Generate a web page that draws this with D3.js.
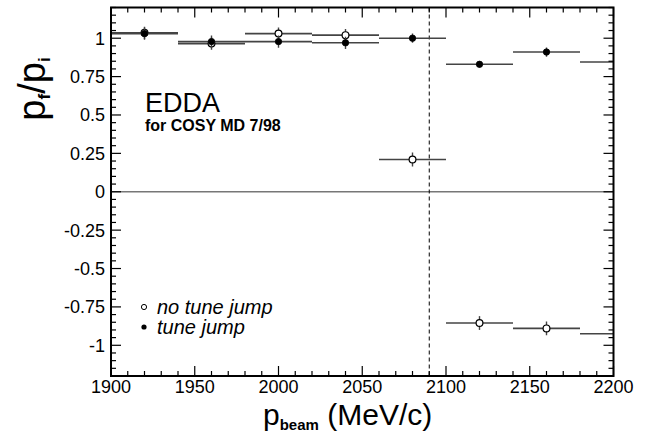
<!DOCTYPE html>
<html><head><meta charset="utf-8">
<script src="https://cdn.jsdelivr.net/npm/d3@7"></script>
<style>
body{margin:0;background:#fff;}
text{font-family:"Liberation Sans",Arial,Helvetica,sans-serif;}
</style></head>
<body>
<svg id="c" width="649" height="436"></svg>
<script>
// Data
const binCenters = [1920, 1960, 2000, 2040, 2080, 2120, 2160, 2200];
const binHalfWidth = 20;
const tuneJump    = [1.03, 0.978, 0.978, 0.97, 1.00, 0.83, 0.91, 0.845];
const tuneJumpErr = [0.04, 0.04, 0.04, 0.04, 0.03, 0.02, 0.03, 0.03];
const noTuneJump    = [1.035, 0.965, 1.03, 1.02, 0.21, -0.855, -0.89, -0.925];
const noTuneJumpErr = [0.04, 0.04, 0.04, 0.04, 0.045, 0.045, 0.045, 0.045];
const xTicks = [1900, 1950, 2000, 2050, 2100, 2150, 2200];
const yTicks = [-1, -0.75, -0.5, -0.25, 0, 0.25, 0.5, 0.75, 1];
const yTickLabels = ["-1", "-0.75", "-0.5", "-0.25", "0", "0.25", "0.5", "0.75", "1"];
const jumpMomentum = 2090;

const svg = d3.select("#c");
const L = 111, R = 613.5, T = 7.5, B = 376;
const x = d3.scaleLinear().domain([1900, 2200]).range([L, R]);
const y = d3.scaleLinear().domain([-1.2, 1.2]).range([B, T]);

svg.append("defs").append("clipPath").attr("id", "clip")
  .append("rect").attr("x", L).attr("y", T).attr("width", R - L).attr("height", B - T);

// zero line
svg.append("line").attr("x1", L).attr("x2", R).attr("y1", y(0)).attr("y2", y(0))
  .attr("stroke", "#777").attr("stroke-width", 1.5);

// dashed vertical line
svg.append("line").attr("x1", x(jumpMomentum)).attr("x2", x(jumpMomentum))
  .attr("y1", T).attr("y2", B).attr("stroke", "#000").attr("stroke-width", 1)
  .attr("stroke-dasharray", "4,3");

const g = svg.append("g").attr("clip-path", "url(#clip)");
const xMax = x.domain()[1];

function drawSeries(vals, errs, filled) {
  const s = g.append("g");
  binCenters.forEach((c, i) => {
    s.append("line").attr("x1", x(c - binHalfWidth)).attr("x2", x(c + binHalfWidth))
      .attr("y1", y(vals[i])).attr("y2", y(vals[i]))
      .attr("stroke", "#444").attr("stroke-width", 1.6);
    if (c >= xMax) return; // marker outside the visible range
    s.append("line").attr("x1", x(c)).attr("x2", x(c))
      .attr("y1", y(vals[i] - errs[i])).attr("y2", y(vals[i] + errs[i]))
      .attr("stroke", "#444").attr("stroke-width", 1.4);
    s.append("circle").attr("cx", x(c)).attr("cy", y(vals[i]))
      .attr("r", filled ? 3.2 : 3.4)
      .attr("fill", filled ? "#000" : "#fff")
      .attr("stroke", "#000").attr("stroke-width", filled ? 0.8 : 1.2);
  });
}
drawSeries(noTuneJump, noTuneJumpErr, false);
drawSeries(tuneJump, tuneJumpErr, true);

// frame
svg.append("rect").attr("x", L).attr("y", T).attr("width", R - L).attr("height", B - T)
  .attr("fill", "none").attr("stroke", "#000").attr("stroke-width", 2);

// ticks
const xMinor = d3.range(1900, 2201, 10);
xMinor.forEach(v => {
  const len = (v % 50 === 0) ? 10 : 5;
  svg.append("line").attr("x1", x(v)).attr("x2", x(v)).attr("y1", B).attr("y2", B - len)
    .attr("stroke", "#000").attr("stroke-width", 1.2);
  svg.append("line").attr("x1", x(v)).attr("x2", x(v)).attr("y1", T).attr("y2", T + len)
    .attr("stroke", "#000").attr("stroke-width", 1.2);
});
const yMinor = d3.range(-24, 25).map(k => k * 0.05);
yMinor.forEach(v => {
  const major = Math.abs(Math.round(v / 0.05) % 5) === 0;
  const len = major ? 10 : 5;
  svg.append("line").attr("x1", L).attr("x2", L + len).attr("y1", y(v)).attr("y2", y(v))
    .attr("stroke", "#000").attr("stroke-width", 1.2);
  svg.append("line").attr("x1", R).attr("x2", R - len).attr("y1", y(v)).attr("y2", y(v))
    .attr("stroke", "#000").attr("stroke-width", 1.2);
});

// tick labels
svg.append("g").selectAll("text").data(xTicks).join("text")
  .attr("x", d => x(d)).attr("y", 393).attr("text-anchor", "middle")
  .attr("font-size", 18).text(d => d);
svg.append("g").selectAll("text").data(yTicks).join("text")
  .attr("x", 105).attr("y", d => y(d) + 6.5).attr("text-anchor", "end")
  .attr("font-size", 18).text((d, i) => yTickLabels[i]);

// axis titles
const xt = svg.append("text").attr("x", 263).attr("y", 425).attr("font-size", 30);
xt.append("tspan").text("p");
xt.append("tspan").attr("font-size", 15).attr("font-weight", "bold").attr("dy", 5).text("beam");
xt.append("tspan").attr("dy", -5).text(" (MeV/c)");

const yt = svg.append("text").attr("transform", "translate(45,89) rotate(-90)")
  .attr("text-anchor", "middle").attr("font-size", 38);
yt.append("tspan").text("p");
yt.append("tspan").attr("font-size", 17).attr("font-weight", "bold").attr("dy", 5).text("f");
yt.append("tspan").attr("dy", -5).text("/p");
yt.append("tspan").attr("font-size", 17).attr("font-weight", "bold").attr("dy", 5).text("i");

// annotations
svg.append("text").attr("x", 145).attr("y", 112).attr("font-size", 27).text("EDDA");
svg.append("text").attr("x", 145).attr("y", 131).attr("font-size", 16).attr("font-weight", "bold")
  .text("for COSY MD 7/98");

// legend
svg.append("circle").attr("cx", 144).attr("cy", 307).attr("r", 2.6)
  .attr("fill", "#fff").attr("stroke", "#000").attr("stroke-width", 1);
svg.append("circle").attr("cx", 144).attr("cy", 327).attr("r", 2.6).attr("fill", "#000");
svg.append("text").attr("x", 157).attr("y", 314).attr("font-size", 20).attr("font-style", "italic")
  .text("no tune jump");
svg.append("text").attr("x", 157).attr("y", 334).attr("font-size", 20).attr("font-style", "italic")
  .text("tune jump");
</script>
</body></html>
